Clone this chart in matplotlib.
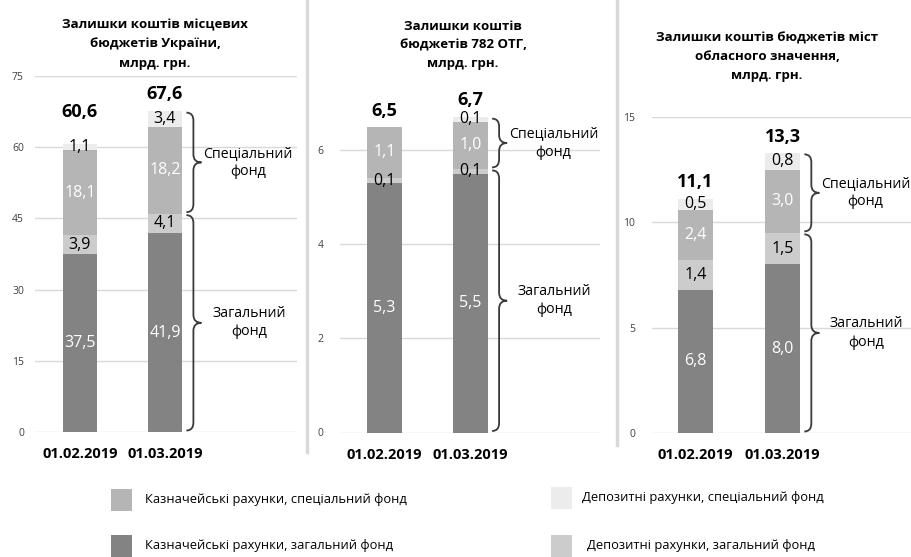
import matplotlib
matplotlib.use('Agg')
import matplotlib.pyplot as plt
from matplotlib.path import Path
from matplotlib.patches import PathPatch, Rectangle
from matplotlib.lines import Line2D
from matplotlib.transforms import IdentityTransform

plt.rcParams['font.family'] = ['Open Sans', 'DejaVu Sans']

# ---------------- data ----------------
dates = ['01.02.2019', '01.03.2019']
titles = ['Залишки коштів місцевих\nбюджетів України,\nмлрд. грн.',
          'Залишки коштів\nбюджетів 782 ОТГ,\nмлрд. грн.',
          'Залишки коштів бюджетів міст\nобласного значення,\nмлрд. грн.']
series_names = ['Казначейські рахунки, загальний фонд',
                'Депозитні рахунки, загальний фонд',
                'Казначейські рахунки, спеціальний фонд',
                'Депозитні рахунки, спеціальний фонд']
treasury_general = [[37.5, 41.9], [5.3, 5.5], [6.8, 8.0]]
deposit_general = [[3.9, 4.1], [0.1, 0.1], [1.4, 1.5]]
treasury_special = [[18.1, 18.2], [1.1, 1.0], [2.4, 3.0]]
deposit_special = [[1.1, 3.4], [0.0, 0.1], [0.5, 0.8]]
totals = [[60.6, 67.6], [6.5, 6.7], [11.1, 13.3]]
y_max = [75, 7, 15]
y_step = [15, 2, 5]
fund_labels = ['Спеціальний\nфонд', 'Загальний\nфонд']

# ---------------- style ----------------
colors = ['#838383', '#cccccc', '#b5b5b5', '#ececec']
text_colors = ['white', 'black', 'white', 'black']

W, H = 911, 557
fig = plt.figure(figsize=(W / 100, H / 100), dpi=100)

def px(x0, y_top, x1, y_bot):
    return [x0 / W, 1 - y_bot / H, (x1 - x0) / W, (y_bot - y_top) / H]

# axes rectangles in pixels (left, top, right, bottom)
rects = [px(35, 76, 297, 432), px(340, 103, 600, 432.5), px(652, 117, 911, 433)]
xlims = [(-0.529, 2.553), (-0.517, 2.506), (-0.5, 2.477)]
bar_w = 0.41
title_pos = [(155, 44), (463, 45), (767, 57)]
total_off = [[32, 17], [16, 17], [17, 16]]

def draw_brace(ax, xc, y0, y1, gap=1.5):
    """curly brace to the right of bar at xc (data), from y0 to y1 (data)."""
    tr = ax.transData
    xs, ya = tr.transform((xc + bar_w / 2, y0))
    _, yb = tr.transform((xc + bar_w / 2, y1))
    x0 = xs + 4
    ya += gap
    yb -= gap
    xv = x0 + 7
    xt = x0 + 15
    r = 8
    ym = (ya + yb) / 2
    verts = [(x0, ya), (xv, ya), (xv, ya + r),
             (xv, ym - r), (xv, ym), (xt, ym),
             (xv, ym), (xv, ym + r),
             (xv, yb - r), (xv, yb), (x0, yb)]
    codes = [Path.MOVETO, Path.CURVE3, Path.CURVE3,
             Path.LINETO, Path.CURVE3, Path.CURVE3,
             Path.CURVE3, Path.CURVE3,
             Path.LINETO, Path.CURVE3, Path.CURVE3]
    p = PathPatch(Path(verts, codes), transform=IdentityTransform(),
                  fill=False, edgecolor='#3a3a3a', lw=1.3)
    fig.add_artist(p)

for k in range(3):
    ax = fig.add_axes(rects[k])
    ax.set_xlim(*xlims[k])
    ax.set_ylim(0, y_max[k])
    yt = list(range(0, y_max[k] + 1, y_step[k]))
    ax.set_yticks(yt)
    ax.set_yticklabels([str(v) for v in yt], fontsize=7.5, color='#404040')
    ax.grid(axis='y', color='#d9d9d9', lw=1)
    ax.set_axisbelow(True)
    for s in ax.spines.values():
        s.set_visible(False)
    ax.tick_params(axis='both', length=0)
    ax.tick_params(axis='y', pad=8 if k == 0 else 12)
    ax.set_xticks([0, 1])
    ax.set_xticklabels(dates, fontsize=10.5, fontweight='bold', color='black')
    ax.tick_params(axis='x', pad=11)

    series = [treasury_general[k], deposit_general[k], treasury_special[k], deposit_special[k]]
    bottoms = [0.0, 0.0]
    for si, vals in enumerate(series):
        ax.bar([0, 1], vals, bar_w, bottom=bottoms, color=colors[si], linewidth=0)
        for i, v in enumerate(vals):
            if v > 0:
                ax.text(i, bottoms[i] + v / 2, f'{v:.1f}'.replace('.', ','),
                        ha='center', va='center', fontsize=11.5,
                        color=text_colors[si])
        bottoms = [bottoms[i] + vals[i] for i in range(2)]

    for i in range(2):
        ax.annotate(f'{totals[k][i]:.1f}'.replace('.', ','), xy=(i, totals[k][i]),
                    xytext=(0, total_off[k][i]), textcoords='offset pixels',
                    ha='center', va='center', fontsize=13, fontweight='bold')

    # braces on second bar
    g_top = treasury_general[k][1] + deposit_general[k][1]
    tot = totals[k][1]
    draw_brace(ax, 1, g_top, tot)
    draw_brace(ax, 1, 0, g_top)
    ax.annotate(fund_labels[0], xy=(1, (g_top + tot) / 2), xytext=(83, 0),
                textcoords='offset pixels', ha='center', va='center',
                fontsize=10.2, linespacing=1.3)
    ax.annotate(fund_labels[1], xy=(1, g_top / 2), xytext=(84, 0),
                textcoords='offset pixels', ha='center', va='center',
                fontsize=10.2, linespacing=1.3)

    fig.text(title_pos[k][0] / W, 1 - title_pos[k][1] / H, titles[k],
             ha='center', va='center', fontsize=9.5, fontweight='bold',
             linespacing=1.6)

# separators
fig.add_artist(Line2D([307 / W] * 2, [1, 1 - 452 / H], color='#d9d9d9', lw=2.5,
                      transform=fig.transFigure))
fig.add_artist(Line2D([617 / W] * 2, [1, 1 - 445 / H], color='#d9d9d9', lw=2.5,
                      transform=fig.transFigure))

# legend (manual layout)
leg_order = [2, 3, 0, 1]
leg_pos = [(111, 145, 500), (551, 582, 498), (111, 145, 546), (551, 587, 546)]
for idx, (sx, tx, cy) in zip(leg_order, leg_pos):
    fig.add_artist(Rectangle((sx / W, 1 - (cy + 11) / H), 21 / W, 22 / H,
                             transform=fig.transFigure, color=colors[idx], lw=0))
    fig.text(tx / W, 1 - cy / H, series_names[idx], ha='left', va='center',
             fontsize=9.3)

fig.savefig('out.png', dpi=100)
